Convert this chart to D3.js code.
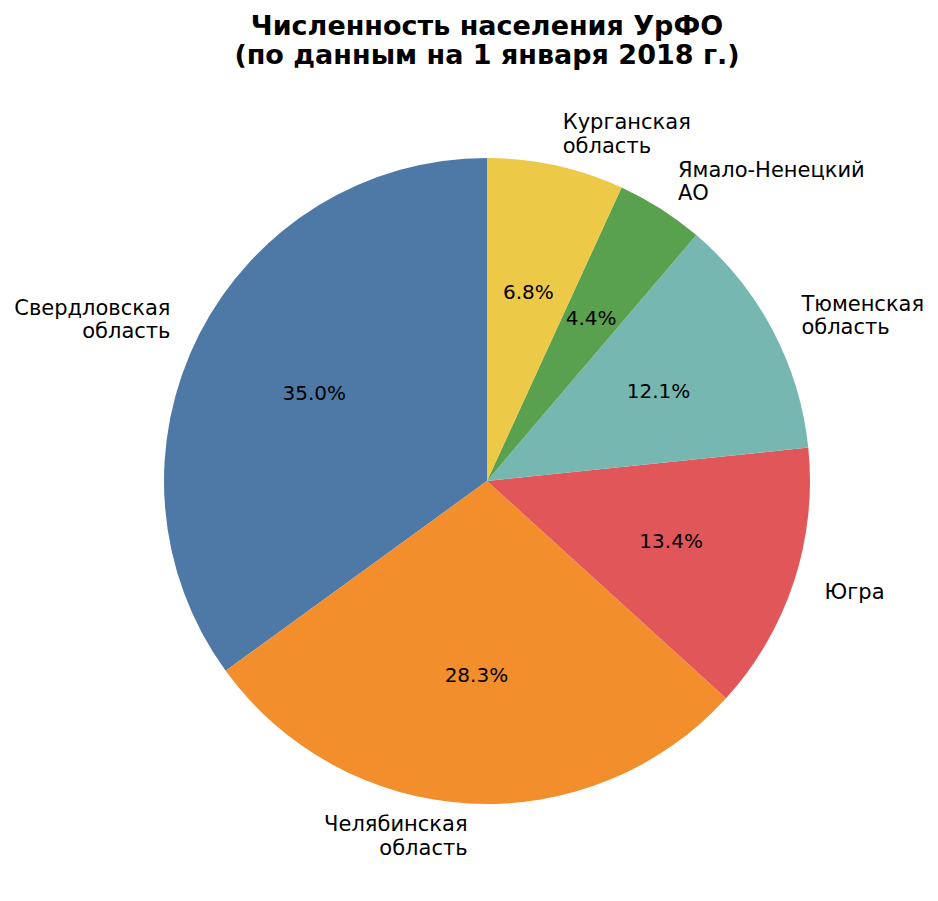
<!DOCTYPE html>
<html>
<head>
<meta charset="utf-8">
<script src="https://cdn.jsdelivr.net/npm/d3@7"></script>
<style>
  body { margin: 0; background: #fff; }
  text { font-family: 'DejaVu Sans', sans-serif; }
</style>
</head>
<body>
<div id="chart"></div>
<script>
// Население субъектов УрФО на 1 января 2018 г., тыс. чел.
var regions = ['Свердловская\nобласть', 'Челябинская\nобласть', 'Югра',
  'Тюменская\nобласть', 'Ямало-Ненецкий\nАО', 'Курганская\nобласть'];
var population = [4325.3, 3493.0, 1655.1, 1498.8, 541.5, 845.5];
var colors = ['#4e79a7', '#f28e2b', '#e15759', '#76b7b2', '#59a14f', '#edc948'];
var titleLines = ['Численность населения УрФО', '(по данным на 1 января 2018 г.)'];

var width = 938;
var height = 901;
var cx = 487, cy = 481, radius = 323;
var labelSize = 21;
var pctSize = 20;
var lineH = 23.5;

var svg = d3.select('#chart').append('svg')
  .attr('width', width)
  .attr('height', height);

// заголовок
svg.append('text')
  .attr('x', cx)
  .attr('y', 35)
  .attr('text-anchor', 'middle')
  .style('font-size', '27px')
  .style('font-weight', 'bold')
  .selectAll('tspan')
  .data(titleLines)
  .enter()
  .append('tspan')
  .attr('x', cx)
  .attr('dy', function (d, i) { return i ? 29 : 0; })
  .text(function (d) { return d; });

var total = d3.sum(population);

// против часовой стрелки от 12 часов
var pie = d3.pie()
  .sort(null)
  .startAngle(0)
  .endAngle(-2 * Math.PI);

var arcs = pie(population);

var arc = d3.arc()
  .innerRadius(0)
  .outerRadius(radius);

var g = svg.append('g')
  .attr('transform', 'translate(' + cx + ',' + cy + ')');

g.selectAll('path.slice')
  .data(arcs)
  .enter()
  .append('path')
  .attr('class', 'slice')
  .attr('fill', function (d, i) { return colors[i]; })
  .attr('d', arc);

function mid(d) { return (d.startAngle + d.endAngle) / 2; }

// проценты
g.selectAll('text.pct')
  .data(arcs)
  .enter()
  .append('text')
  .attr('class', 'pct')
  .attr('x', function (d) { return Math.sin(mid(d)) * radius * 0.6; })
  .attr('y', function (d) { return -Math.cos(mid(d)) * radius * 0.6; })
  .attr('text-anchor', 'middle')
  .attr('dominant-baseline', 'central')
  .style('font-size', pctSize + 'px')
  .text(function (d) { return (d.value / total * 100).toFixed(1) + '%'; });

// подписи
var labels = g.selectAll('text.lbl')
  .data(arcs)
  .enter()
  .append('text')
  .attr('class', 'lbl')
  .style('font-size', labelSize + 'px')
  .attr('text-anchor', function (d) { return Math.sin(mid(d)) < 0 ? 'end' : 'start'; });

labels.each(function (d, i) {
  var lines = regions[i].split('\n');
  var x = Math.sin(mid(d)) * radius * 1.1;
  var y = -Math.cos(mid(d)) * radius * 1.1;
  d3.select(this).selectAll('tspan')
    .data(lines)
    .enter()
    .append('tspan')
    .attr('x', x)
    .attr('y', function (l, j) { return y + (j - (lines.length - 1) / 2) * lineH; })
    .attr('dominant-baseline', 'central')
    .text(function (l) { return l; });
});
</script>
</body>
</html>
